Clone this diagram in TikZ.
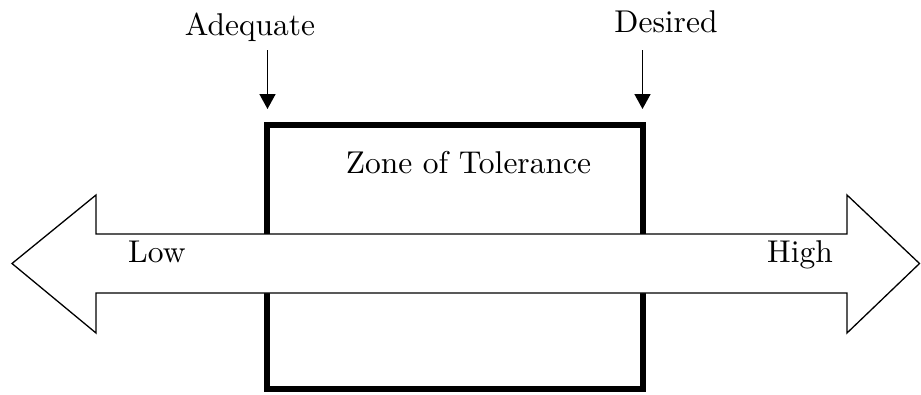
\documentclass[tikz,border=0pt]{standalone}
\usepackage{fontspec}
\setmainfont{lmroman10-regular}[Extension=.otf]
\usetikzlibrary{arrows.meta}
\begin{document}
\begin{tikzpicture}[x=1pt,y=-1pt,
  lbl/.style={font=\fontsize{31.5}{38}\selectfont, inner sep=0pt},
  zonebox/.style={draw=black, line width=6pt, inner sep=0pt, fill=white},
  bigarrow/.style={draw=black, fill=white, line width=1.3pt, line join=miter},
  pointer/.style={line width=1.6pt, -{Triangle[width=16pt,length=15pt]}}
]
\useasboundingbox (0,0) rectangle (921,394);

% the zone box (its middle is covered by the double arrow)
\node[zonebox, minimum width=375.5pt, minimum height=263.5pt] (zone) at (454.75,256.75) {};

% the Low--High double arrow
\draw[bigarrow] (12,263.5) -- (96,195) -- (96,234) -- (847,234) -- (847,195)
  -- (919.5,263.5) -- (847,333) -- (847,293) -- (96,293) -- (96,333) -- cycle;

% labels
\node[lbl, anchor=base] (adequate) at (250,35) {Adequate};
\node[lbl, anchor=base] (desired) at (666,32) {Desired};
\node[lbl, anchor=base] (zonetext) at (468.5,173) {Zone of Tolerance};
\node[lbl, anchor=base west] (low) at (128,262) {Low};
\node[lbl, anchor=base east] (high) at (833,262) {High};

% pointers to the box edges
\coordinate (adqstart) at (267.5,50);
\coordinate (desstart) at (642.5,50);
\draw[pointer, shorten >=13pt] (adqstart) -- (zone.north west -| adqstart);
\draw[pointer, shorten >=13pt] (desstart) -- (zone.north east -| desstart);
\end{tikzpicture}
\end{document}
